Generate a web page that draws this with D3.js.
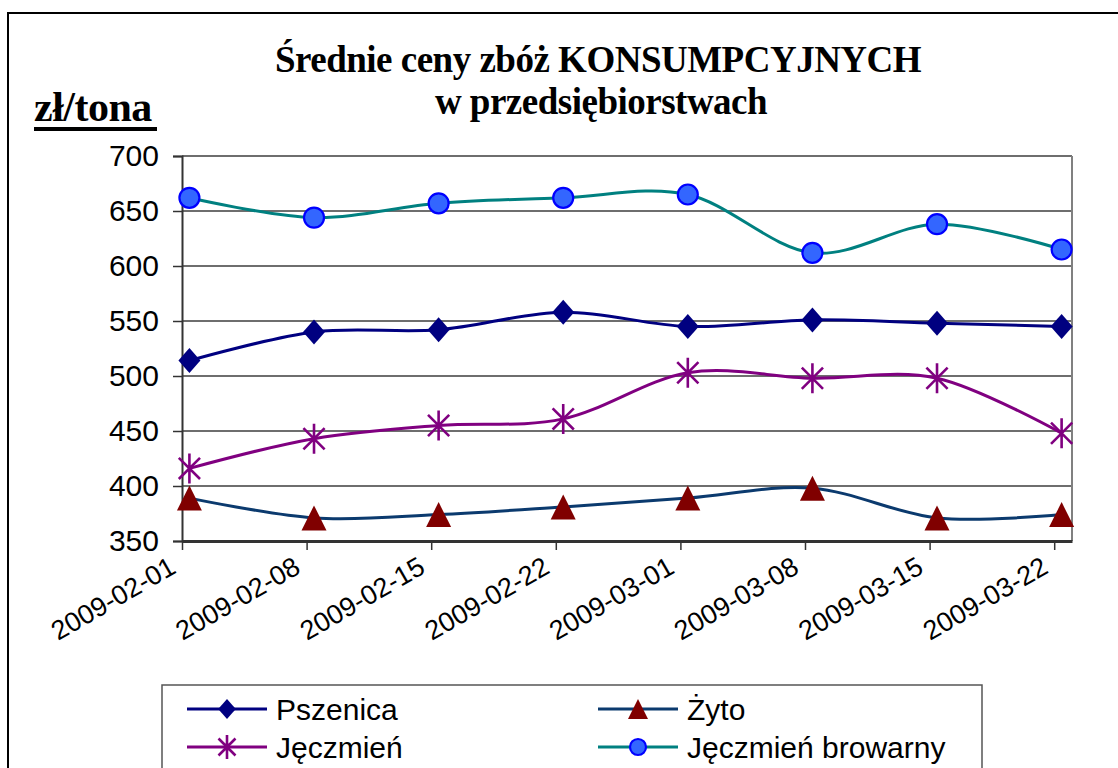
<!DOCTYPE html>
<html>
<head>
<meta charset="utf-8">
<script src="https://cdn.jsdelivr.net/npm/d3@7"></script>
<style>
  body { margin: 0; background: #fff; }
  svg { display: block; }
</style>
</head>
<body>
<div id="canvas"></div>
<script>
// chart data
const dates = ["2009-02-01", "2009-02-08", "2009-02-15", "2009-02-22", "2009-03-01", "2009-03-08", "2009-03-15", "2009-03-22"];
const pszenica = [514, 540, 542, 558, 545, 551, 548, 545];
const zyto = [389, 371, 374, 381, 389, 398, 371, 374];
const jeczmien = [416, 443, 455, 461, 503, 498, 498, 448];
const browarny = [662, 644, 657, 662, 665, 612, 638, 615];
const yTicks = [350, 400, 450, 500, 550, 600, 650, 700];
const seriesNames = ["Pszenica", "Żyto", "Jęczmień", "Jęczmień browarny"];

const width = 1118, height = 768;
const plot = { left: 182, right: 1072, top: 156, bottom: 541 };
const parse = d3.timeParse("%Y-%m-%d");
const fmt = d3.timeFormat("%Y-%m-%d");

const svg = d3.select("#canvas").append("svg")
    .attr("width", width)
    .attr("height", height);

// outer frame (clipped on right and bottom)
svg.append("rect")
    .attr("x", 8).attr("y", 13)
    .attr("width", 1200).attr("height", 800)
    .attr("fill", "none").attr("stroke", "#000").attr("stroke-width", 2);

const x = d3.scaleTime()
    .domain([parse(dates[0]), d3.timeDay.offset(parse(dates[dates.length - 1]), 1)])
    .range([plot.left, plot.right]);
const y = d3.scaleLinear()
    .domain([350, 700])
    .range([plot.bottom, plot.top]);

// points sit a little after midnight on the date axis
const hourShift = 10;
const px = d => x(d3.timeHour.offset(parse(d), hourShift));

// gridlines
svg.append("g")
    .selectAll("line")
    .data(yTicks)
    .join("line")
    .attr("x1", plot.left).attr("x2", plot.right)
    .attr("y1", d => y(d)).attr("y2", d => y(d))
    .attr("stroke", "#6e6e6e").attr("stroke-width", 2);

// right border of plot
svg.append("line")
    .attr("x1", plot.right).attr("x2", plot.right)
    .attr("y1", plot.top).attr("y2", plot.bottom)
    .attr("stroke", "#808080").attr("stroke-width", 2);

// y axis
const yAxis = svg.append("g")
    .attr("transform", `translate(${plot.left},0)`)
    .call(d3.axisLeft(y).tickValues(yTicks).tickSize(9).tickPadding(14));
yAxis.select(".domain").attr("stroke", "#333").attr("stroke-width", 2);
yAxis.selectAll(".tick line").attr("stroke", "#333").attr("stroke-width", 1.5);
yAxis.selectAll("text")
    .attr("font-family", "Liberation Sans, Arial, sans-serif")
    .attr("font-size", 30)
    .attr("fill", "#000");

// x axis
const xAxis = svg.append("g")
    .attr("transform", `translate(0,${plot.bottom})`)
    .call(d3.axisBottom(x).tickValues(dates.map(parse)).tickFormat(fmt).tickSize(9).tickSizeOuter(0));
xAxis.select(".domain").attr("stroke", "#333").attr("stroke-width", 3);
xAxis.selectAll(".tick line").attr("stroke", "#333").attr("stroke-width", 1.5);
xAxis.selectAll("text")
    .attr("font-family", "Liberation Sans, Arial, sans-serif")
    .attr("font-size", 27)
    .attr("fill", "#000")
    .attr("text-anchor", "end")
    .attr("x", 0)
    .attr("y", 0)
    .attr("dy", 0)
    .attr("transform", "translate(-5,31) rotate(-30)");

// series
const series = [
    { name: seriesNames[0], values: pszenica, line: "#000080", marker: "diamond", fill: "#000080", stroke: "none" },
    { name: seriesNames[1], values: zyto, line: "#0b3a6e", marker: "triangle", fill: "#800000", stroke: "none" },
    { name: seriesNames[2], values: jeczmien, line: "#800080", marker: "star", fill: "none", stroke: "#800080" },
    { name: seriesNames[3], values: browarny, line: "#008080", marker: "circle", fill: "#3366ff", stroke: "#0000ff" }
];

const line = d3.line()
    .x(d => px(d.date))
    .y(d => y(d.value))
    .curve(d3.curveCardinal.tension(0));

function drawMarker(g, type, s, color, fill, stroke) {
    if (type === "diamond") {
        g.append("path")
            .attr("d", `M0,${-12.5 * s}L${11 * s},0L0,${12.5 * s}L${-11 * s},0Z`)
            .attr("fill", fill);
    } else if (type === "triangle") {
        g.append("path")
            .attr("d", `M0,${-12.5 * s}L${12.5 * s},${12.5 * s}L${-12.5 * s},${12.5 * s}Z`)
            .attr("fill", fill);
    } else if (type === "circle") {
        g.append("circle")
            .attr("r", 10 * s)
            .attr("fill", fill)
            .attr("stroke", stroke)
            .attr("stroke-width", 2.2);
    } else if (type === "star") {
        const r = 15 * s;
        const d = r * 0.707;
        g.append("path")
            .attr("d", `M0,${-r}L0,${r}M${-d},${-d}L${d},${d}M${-d},${d}L${d},${-d}`)
            .attr("stroke", stroke)
            .attr("stroke-width", 2.6)
            .attr("fill", "none");
    }
}

series.forEach(s => {
    const pts = s.values.map((v, i) => ({ date: dates[i], value: v }));
    svg.append("path")
        .datum(pts)
        .attr("d", line)
        .attr("fill", "none")
        .attr("stroke", s.line)
        .attr("stroke-width", 3);
});

series.forEach(s => {
    s.values.forEach((v, i) => {
        const g = svg.append("g").attr("transform", `translate(${px(dates[i])},${y(v)})`);
        drawMarker(g, s.marker, 1, s.line, s.fill, s.stroke);
    });
});

// title
const title = svg.append("text")
    .attr("text-anchor", "middle")
    .attr("font-family", "Liberation Serif, Times New Roman, serif")
    .attr("font-weight", "bold")
    .attr("font-size", 37)
    .attr("letter-spacing", -0.5)
    .attr("fill", "#000");
title.append("tspan").attr("x", 598).attr("y", 72).text("Średnie ceny zbóż KONSUMPCYJNYCH");
title.append("tspan").attr("x", 601).attr("y", 114).text("w przedsiębiorstwach");

// unit label
svg.append("text")
    .attr("x", 34).attr("y", 121)
    .attr("font-family", "Liberation Serif, Times New Roman, serif")
    .attr("font-weight", "bold")
    .attr("font-size", 42)
    .attr("letter-spacing", -0.5)
    .attr("fill", "#000")
    .text("zł/tona");
svg.append("line")
    .attr("x1", 34).attr("x2", 157)
    .attr("y1", 129).attr("y2", 129)
    .attr("stroke", "#000").attr("stroke-width", 4);

// legend
const legend = svg.append("g");
legend.append("rect")
    .attr("x", 162).attr("y", 685)
    .attr("width", 820).attr("height", 120)
    .attr("fill", "#fff").attr("stroke", "#555").attr("stroke-width", 1.5);

const legendPos = [
    { x: 187, y: 709 }, { x: 598, y: 709 },
    { x: 187, y: 747 }, { x: 598, y: 747 }
];
series.forEach((s, i) => {
    const p = legendPos[i];
    legend.append("line")
        .attr("x1", p.x).attr("x2", p.x + 80)
        .attr("y1", p.y).attr("y2", p.y)
        .attr("stroke", s.line).attr("stroke-width", 3);
    const g = legend.append("g").attr("transform", `translate(${p.x + 40},${p.y})`);
    drawMarker(g, s.marker, 0.8, s.line, s.fill, s.stroke);
    legend.append("text")
        .attr("x", p.x + 89).attr("y", p.y + 11)
        .attr("font-family", "Liberation Sans, Arial, sans-serif")
        .attr("font-size", 30)
        .attr("fill", "#000")
        .text(s.name);
});
</script>
</body>
</html>
